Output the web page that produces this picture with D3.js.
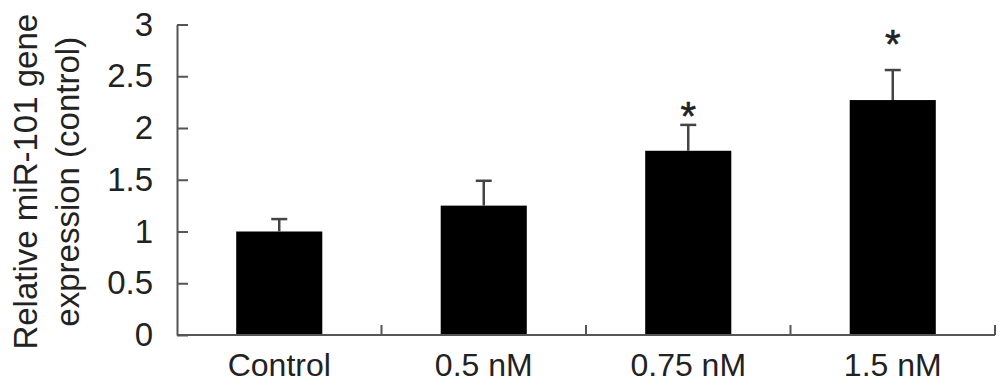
<!DOCTYPE html>
<html><head><meta charset="utf-8">
<script src="https://cdn.jsdelivr.net/npm/d3@7"></script>
<style>
html,body{margin:0;padding:0;background:#fff;}
svg{display:block;font-family:"Liberation Sans",Arial,sans-serif;}
</style></head>
<body><svg id="c" width="1008" height="391"></svg>
<script>
const categories = ["Control", "0.5 nM", "0.75 nM", "1.5 nM"];
const meanValues = [1.0, 1.25, 1.78, 2.27];
const errorValues = [0.12, 0.24, 0.25, 0.29];
const significant = [false, false, true, true];
const asteriskValues = [null, null, 2.2, 2.9];
const yTicks = [0, 0.5, 1, 1.5, 2, 2.5, 3];
const yLabelLines = ["Relative miR-101 gene", "expression (control)"];

const svg = d3.select("#c");
const x0 = 177, x1 = 995, yTop = 24.5, yBot = 335;
const x = d3.scaleBand().domain(categories).range([x0, x1]).paddingInner(0.579).paddingOuter(0.2895);
const y = d3.scaleLinear().domain([0, 3]).range([yBot, yTop]);
const axisCol = "#555";

// y axis
const ya = svg.append("g").attr("transform", `translate(${x0},0)`)
  .call(d3.axisLeft(y).tickValues(yTicks).tickFormat(d => String(d)).tickSizeInner(-11).tickSizeOuter(0).tickPadding(24));
ya.select(".domain").attr("stroke", axisCol).attr("stroke-width", 2);
ya.selectAll(".tick line").attr("stroke", axisCol).attr("stroke-width", 2);
ya.selectAll(".tick text").attr("font-size", 33).attr("fill", "#222").attr("font-family", "Liberation Sans, Arial, sans-serif");

// bars
const data = categories.map((c, i) => ({c, v: meanValues[i], e: errorValues[i], s: significant[i], a: asteriskValues[i]}));
svg.selectAll("rect.bar").data(data).enter().append("rect")
  .attr("class", "bar")
  .attr("x", d => x(d.c)).attr("width", x.bandwidth())
  .attr("y", d => y(d.v)).attr("height", d => y(0) - y(d.v))
  .attr("fill", "#000");

// error bars
const cx = d => x(d.c) + x.bandwidth() / 2;
const eg = svg.append("g").attr("stroke", "#444").attr("stroke-width", 2.5);
eg.selectAll("line.v").data(data).enter().append("line")
  .attr("x1", cx).attr("x2", cx).attr("y1", d => y(d.v)).attr("y2", d => y(d.v + d.e));
eg.selectAll("line.h").data(data).enter().append("line")
  .attr("x1", d => cx(d) - 8).attr("x2", d => cx(d) + 8).attr("y1", d => y(d.v + d.e)).attr("y2", d => y(d.v + d.e));

// asterisks
svg.selectAll("text.star").data(data.filter(d => d.s)).enter().append("text")
  .attr("class", "star")
  .attr("x", cx).attr("y", d => y(d.a) + 23)
  .attr("text-anchor", "middle").attr("font-size", 40).attr("fill", "#222")
  .attr("stroke", "#222").attr("stroke-width", 0.6)
  .text("*");

// x axis
const step = x.step();
const xa = svg.append("g");
xa.append("line").attr("x1", x0).attr("x2", x1).attr("y1", yBot).attr("y2", yBot)
  .attr("stroke", axisCol).attr("stroke-width", 2);
xa.selectAll("line.t").data(categories).enter().append("line")
  .attr("x1", d => x(d) + x.bandwidth() / 2 + step / 2).attr("x2", d => x(d) + x.bandwidth() / 2 + step / 2)
  .attr("y1", yBot).attr("y2", yBot - 10)
  .attr("stroke", axisCol).attr("stroke-width", 2);
xa.selectAll("text").data(categories).enter().append("text")
  .attr("x", d => x(d) + x.bandwidth() / 2).attr("y", 376)
  .attr("text-anchor", "middle").attr("font-size", 32).attr("fill", "#222")
  .text(d => d);

// y label
const yl = svg.append("text").attr("transform", `translate(37,${(yTop + yBot) / 2 + 2}) rotate(-90)`)
  .attr("text-anchor", "middle").attr("font-size", 33).attr("fill", "#222");
yLabelLines.forEach((t, i) => yl.append("tspan").attr("x", 0).attr("dy", i === 0 ? 0 : 42).text(t));
</script></body></html>
